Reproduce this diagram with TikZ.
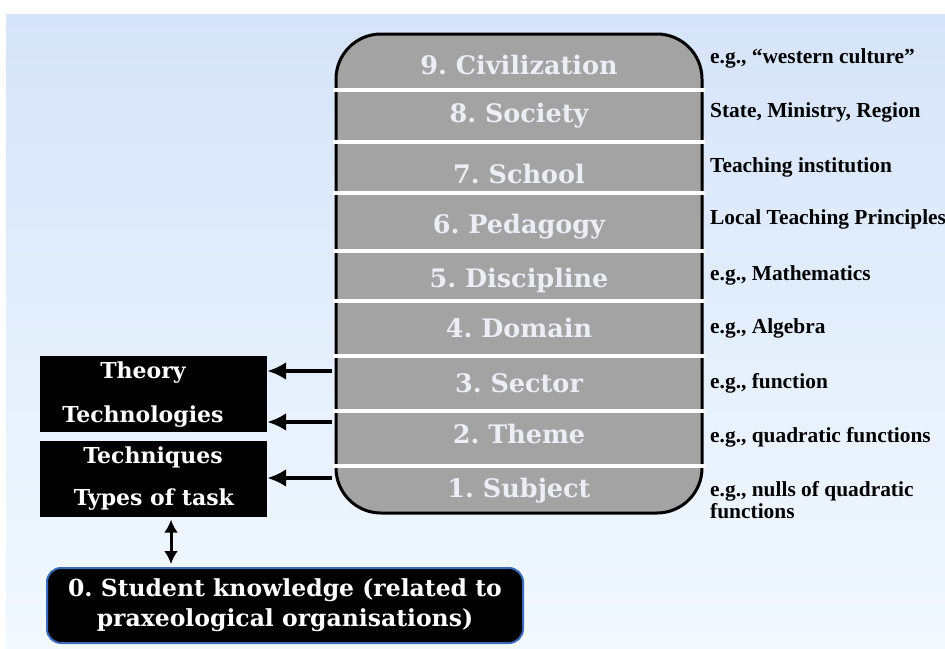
\documentclass[tikz,border=0pt]{standalone}
\usepackage{fontspec}
\setmainfont{Liberation Serif}
\newfontfamily\slabfont{DejaVu Serif}
\usetikzlibrary{arrows.meta,positioning}

\definecolor{bandgrey}{RGB}{163,163,163}
\definecolor{lvltext}{RGB}{237,237,246}
\definecolor{bgtop}{RGB}{214,228,249}
\definecolor{bgbot}{RGB}{242,249,255}
\definecolor{rimblue}{RGB}{58,108,186}

\begin{document}
\frenchspacing
\begin{tikzpicture}[
  x=1pt, y=-1pt,
  lvl/.style={anchor=base, text=lvltext, inner sep=0pt,
              font=\slabfont\bfseries\fontsize{25.5}{29}\selectfont},
  note/.style={anchor=base west, inner sep=0pt, font=\bfseries\fontsize{21.4}{22}\selectfont},
  blk/.style={fill=black, minimum width=227pt, minimum height=76pt, inner sep=0pt},
  wtxt/.style={anchor=base, text=white, inner sep=0pt,
               font=\slabfont\bfseries\fontsize{22}{26}\selectfont},
  sep/.style={white, line width=4pt},
  arr/.style={-{Latex[length=19pt,width=18pt]}, line width=4pt},
  dbl/.style={{Latex[length=13pt,width=14pt]}-{Latex[length=13pt,width=14pt]}, line width=3pt}
]
% background
\fill[white] (0,0) rectangle (945,648);
\fill[top color=bgtop, bottom color=bgbot] (6,14) rectangle (945,648);
\useasboundingbox (0,0) rectangle (945,648);

% the levels
\node[draw, line width=3pt, fill=bandgrey, rounded corners=45pt,
      minimum width=366pt, minimum height=479pt] (tower) at (519,273.5) {};
\foreach \y in {90,142,193,251,301,356,411,466}
  \draw[sep] (333,\y) -- (705,\y);
\node[lvl] (l9) at (519,74) {9. Civilization};
\node[lvl] (l8) at (519,122) {8. Society};
\node[lvl] (l7) at (519,183) {7. School};
\node[lvl] (l6) at (519,233) {6. Pedagogy};
\node[lvl] (l5) at (519,287) {5. Discipline};
\node[lvl] (l4) at (519,337) {4. Domain};
\node[lvl] (l3) at (519,392) {3. Sector};
\node[lvl] (l2) at (519,443) {2. Theme};
\node[lvl] (l1) at (519,497) {1. Subject};

% examples
\node[note] (n9) at (710,63) {e.g., “western culture”};
\node[note] (n8) at (710,117) {State, Ministry, Region};
\node[note] (n7) at (710,172) {Teaching institution};
\node[note] (n6) at (710,224) {Local Teaching Principles};
\node[note] (n5) at (710,280) {e.g., Mathematics};
\node[note] (n4) at (710,333) {e.g., Algebra};
\node[note] (n3) at (710,388) {e.g., function};
\node[note] (n2) at (710,442) {e.g., quadratic functions};
\node[note, anchor=north west, align=left] (n1) at (710,481)
  {e.g., nulls of quadratic\\functions};

% praxeology
\node[blk] (upbox) at (153.5,394) {};
\node[blk] (lowbox) at (153.5,478.5) {};
\node[wtxt] (theory) at (143,378) {Theory};
\node[wtxt] (technol) at (143,422) {Technologies};
\node[wtxt] (techniq) at (153,463) {Techniques};
\node[wtxt] (types) at (154,505) {Types of task};

\node[draw=rimblue, line width=2pt, fill=black, rounded corners=14pt,
      minimum width=476pt, minimum height=75pt, align=center, text=white,
      font=\slabfont\bfseries\fontsize{23.5}{30}\selectfont] (student) at (285,605.5)
  {0. Student knowledge (related to\\praxeological organisations)};

\coordinate (s3) at (332,371);
\coordinate (s2) at (332,422);
\coordinate (s1) at (332,478);
\draw[arr] (s3) -- (upbox.east |- s3);
\draw[arr] (s2) -- (upbox.east |- s2);
\draw[arr] (s1) -- (lowbox.east |- s1);
\draw[dbl, shorten <=3pt, shorten >=3pt] ([xshift=17.5pt]lowbox.south) -- ([xshift=17.5pt]lowbox.south |- student.north);
\end{tikzpicture}
\end{document}
